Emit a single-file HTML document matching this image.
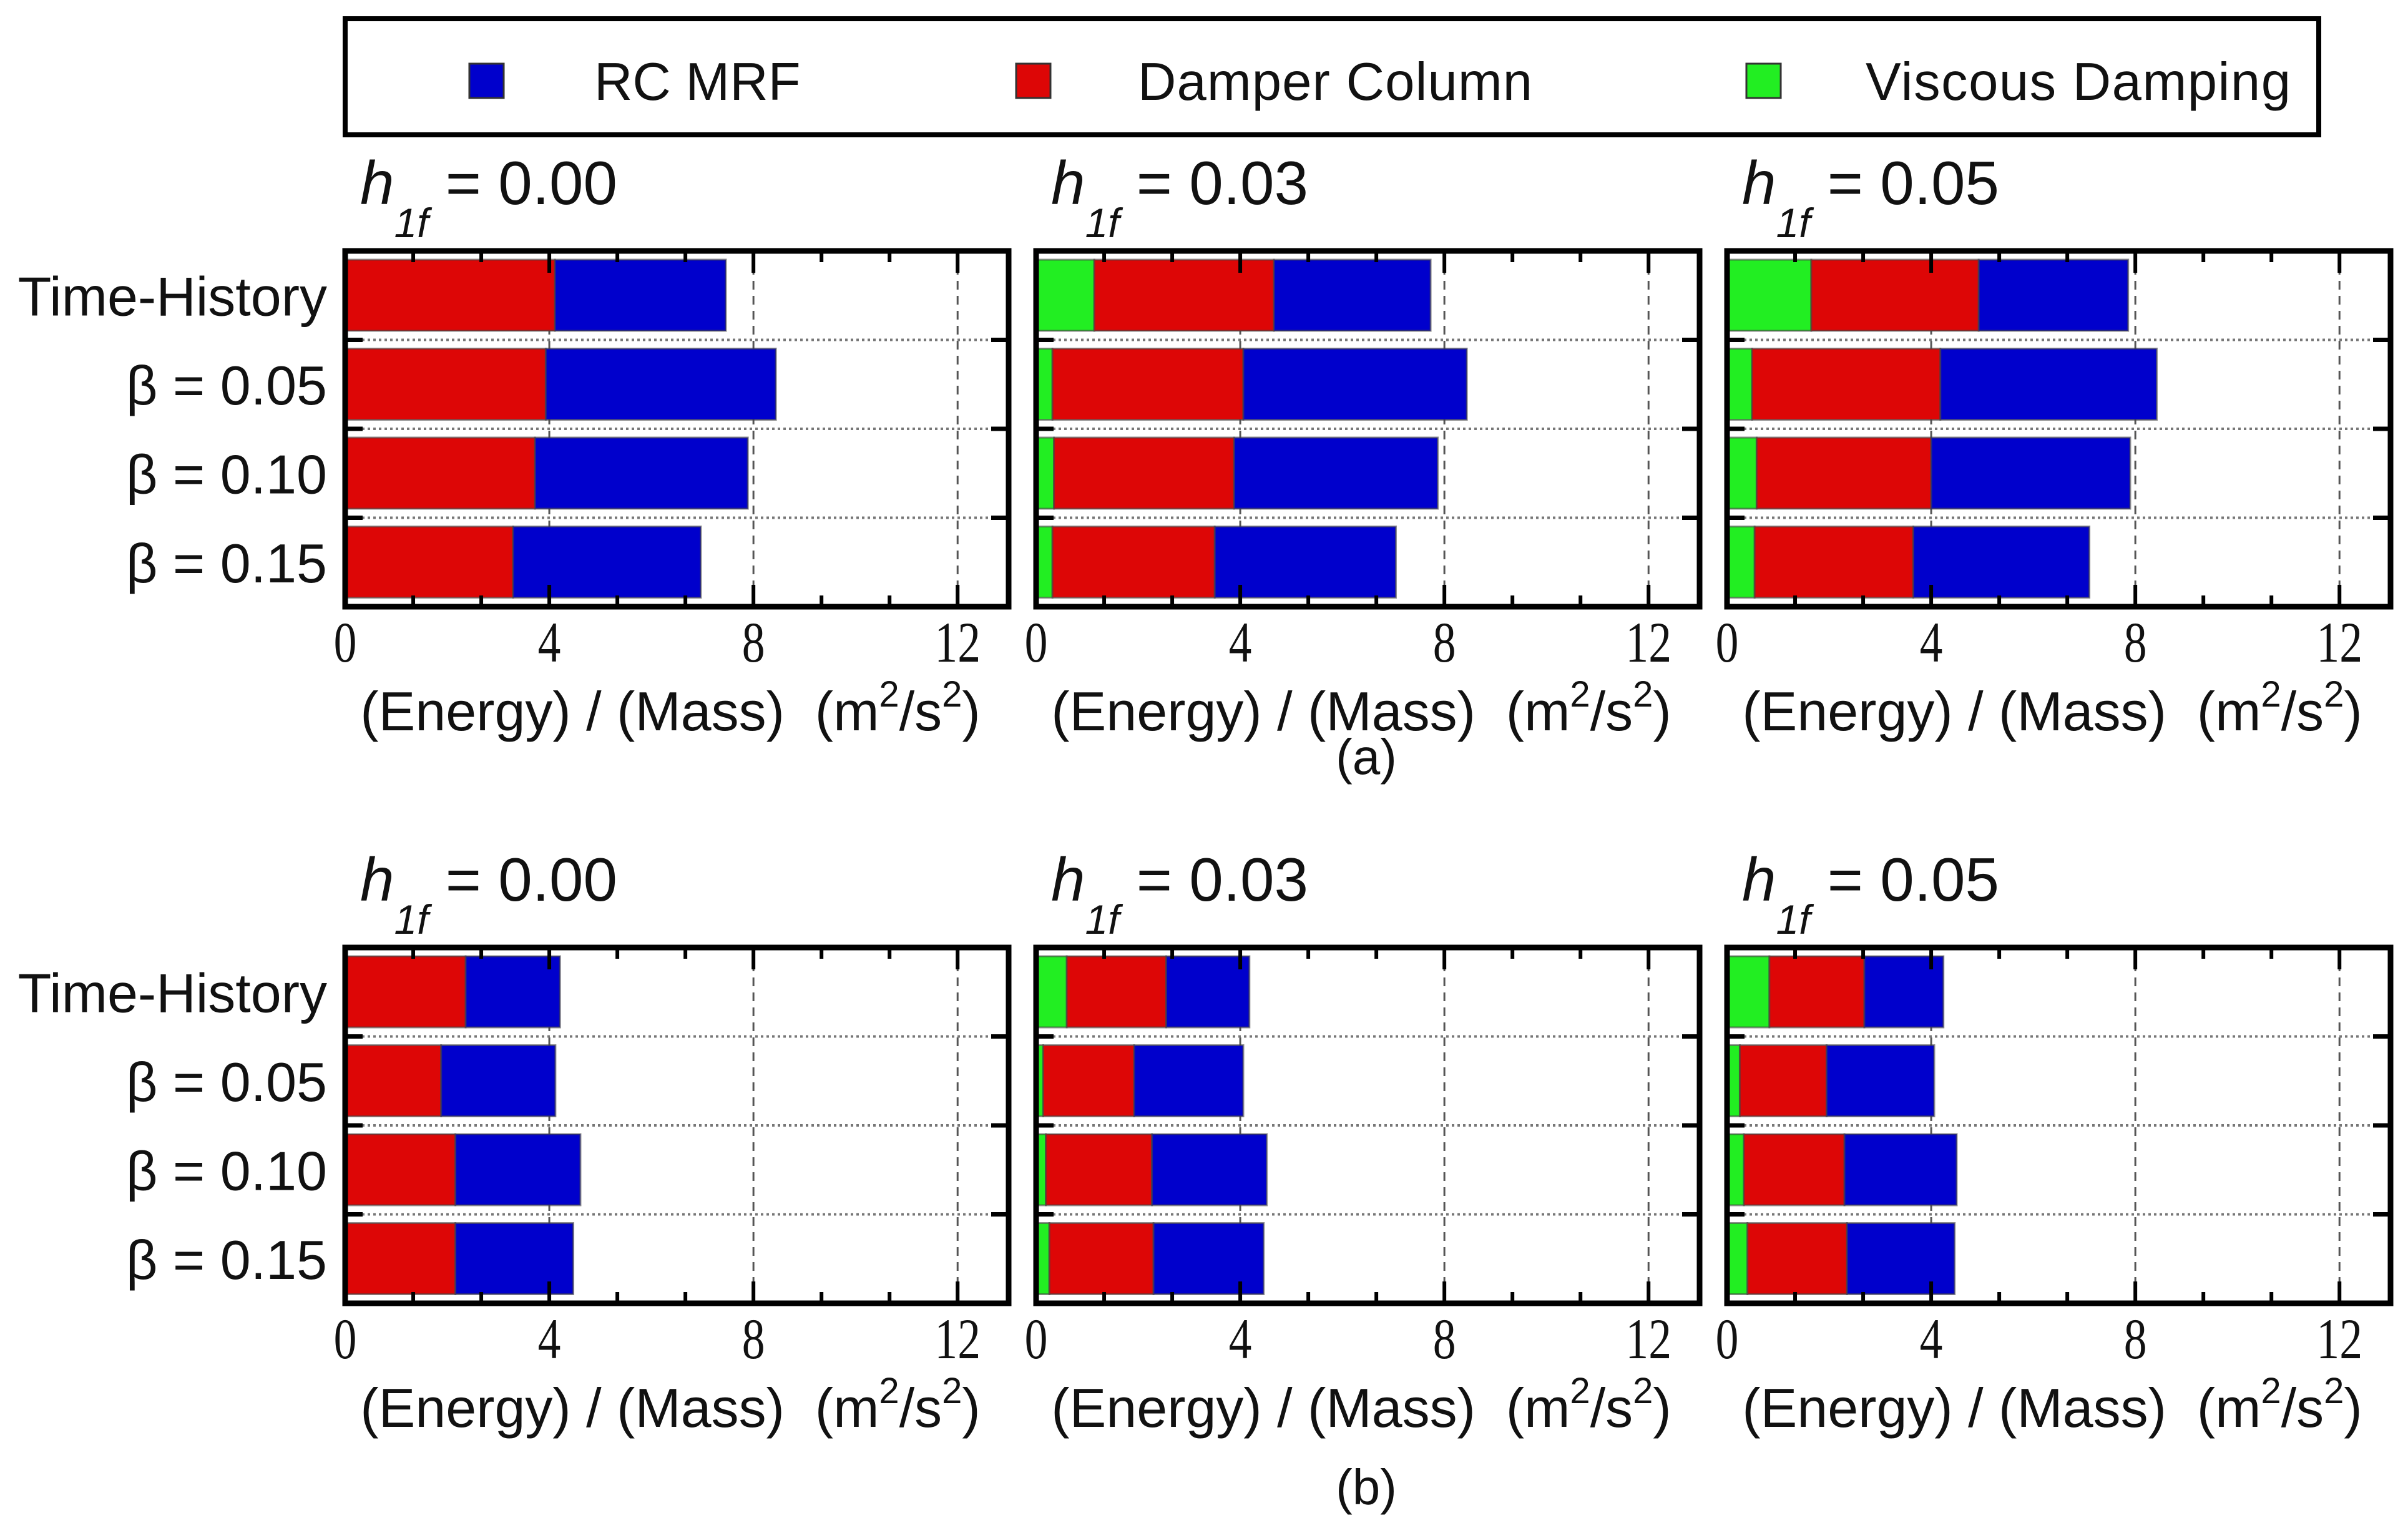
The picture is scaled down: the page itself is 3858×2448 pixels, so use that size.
<!DOCTYPE html>
<html><head><meta charset="utf-8"><style>
html,body{margin:0;padding:0;background:#fff;}
svg{display:block;}
</style></head><body>
<svg id="chart" xmlns="http://www.w3.org/2000/svg" width="3858" height="2448" viewBox="0 0 3858 2448">
<g>
<rect x="553" y="30" width="3162" height="186" fill="#fff" stroke="#000" stroke-width="8"/>
<rect x="752" y="102" width="55" height="55" fill="#0000cc" stroke="#333" stroke-width="3"/>
<text x="952" y="160" font-family="Liberation Sans, sans-serif" font-size="85" fill="#111">RC MRF</text>
<rect x="1628" y="102" width="55" height="55" fill="#dd0606" stroke="#333" stroke-width="3"/>
<text x="1823" y="160" font-family="Liberation Sans, sans-serif" font-size="85" fill="#111" textLength="632">Damper Column</text>
<rect x="2798" y="102" width="55" height="55" fill="#22ee22" stroke="#333" stroke-width="3"/>
<text x="2989" y="160" font-family="Liberation Sans, sans-serif" font-size="85" fill="#111" textLength="681">Viscous Damping</text>
</g>
<text x="2189" y="1240" text-anchor="middle" font-family="Liberation Sans, sans-serif" font-size="80" fill="#111">(a)</text>
<text x="2189" y="2410" text-anchor="middle" font-family="Liberation Sans, sans-serif" font-size="80" fill="#111">(b)</text>
<g id="plots"></g>
</svg>
<script>
const categories = ["Time-History", "\u03B2 = 0.05", "\u03B2 = 0.10", "\u03B2 = 0.15"];
const hValues = ["0.00", "0.03", "0.05"];
const tickLabels = [0, 4, 8, 12];
// panel (a)
const a0Green = [0, 0, 0, 0];
const a0Red   = [4.11, 3.93, 3.72, 3.29];
const a0Blue  = [3.35, 4.51, 4.17, 3.68];
const a1Green = [1.14, 0.32, 0.35, 0.32];
const a1Red   = [3.52, 3.74, 3.53, 3.18];
const a1Blue  = [3.07, 4.38, 3.99, 3.55];
const a2Green = [1.65, 0.49, 0.58, 0.54];
const a2Red   = [3.28, 3.69, 3.42, 3.11];
const a2Blue  = [2.93, 4.24, 3.90, 3.45];
// panel (b)
const b0Green = [0, 0, 0, 0];
const b0Red   = [2.36, 1.88, 2.16, 2.16];
const b0Blue  = [1.85, 2.24, 2.45, 2.31];
const b1Green = [0.60, 0.14, 0.19, 0.26];
const b1Red   = [1.95, 1.78, 2.08, 2.04];
const b1Blue  = [1.63, 2.14, 2.25, 2.16];
const b2Green = [0.83, 0.25, 0.33, 0.40];
const b2Red   = [1.86, 1.70, 1.97, 1.95];
const b2Blue  = [1.55, 2.11, 2.20, 2.11];

const NS = "http://www.w3.org/2000/svg";
const root = document.getElementById('plots');
function mk(tag, attrs, parent){ const e=document.createElementNS(NS,tag); for(const k in attrs) e.setAttribute(k,attrs[k]); parent.appendChild(e); return e; }

const panelLefts = [553, 1660, 2767];
const panelW = 1063, panelH = 570, xMax = 13;
const panelTops = [402, 1518];
const panels = [
  [[a0Green,a0Red,a0Blue],[a1Green,a1Red,a1Blue],[a2Green,a2Red,a2Blue]],
  [[b0Green,b0Red,b0Blue],[b1Green,b1Red,b1Blue],[b2Green,b2Red,b2Blue]]
];
const colors = ["#22ee22", "#dd0606", "#0000cc"];
const seriesNames = ["viscous-damping", "damper-column", "rc-mrf"];
const SANS = "Liberation Sans, sans-serif", SERIF = "Liberation Serif, serif";

panels.forEach((row, ri) => {
  const top = panelTops[ri];
  row.forEach((series, pi) => {
    const left = panelLefts[pi];
    const g = mk('g', {}, root);
    
    
    const xs = v => left + v / xMax * panelW;
    const band = panelH / categories.length;
    const yb = i => top + i * band;
    [4, 8, 12].forEach(v => {
      const l = mk('line', {x1: xs(v), x2: xs(v), y1: top, y2: top+panelH, stroke:'#555', 'stroke-width':3, 'stroke-dasharray':'14 10'}, g);
      
      
    });
    for (let i=1;i<categories.length;i++){
      const l = mk('line', {x1:left, x2:left+panelW, y1:yb(i), y2:yb(i), stroke:'#777', 'stroke-width':4, 'stroke-dasharray':'4 5'}, g);
      
      
      mk('line',{x1:left, x2:left+28, y1:yb(i), y2:yb(i), stroke:'#000','stroke-width':7}, g);
      mk('line',{x1:left+panelW-28, x2:left+panelW, y1:yb(i), y2:yb(i), stroke:'#000','stroke-width':7}, g);
    }
    categories.forEach((c, ci) => {
      let acc = 0;
      series.forEach((arr, si) => {
        const v = arr[ci];
        if (v > 0) {
          const r = mk('rect', {x: xs(acc), y: yb(ci)+14, width: xs(acc+v)-xs(acc), height: band*0.8, fill: colors[si], stroke:'#444', 'stroke-opacity':0.6, 'stroke-width':3}, g);
          
          
        }
        acc += v;
      });
    });
    for (let k=1;k<=9;k++){
      const v = k*4/3; const major = (k%3===0); const len = major?35:18;
      mk('line',{x1:xs(v),x2:xs(v),y1:top,y2:top+len,stroke:'#000','stroke-width':6}, g);
      mk('line',{x1:xs(v),x2:xs(v),y1:top+panelH,y2:top+panelH-len,stroke:'#000','stroke-width':6}, g);
    }
    const fr = mk('rect',{x:left,y:top,width:panelW,height:panelH,fill:'none',stroke:'#000','stroke-width':9}, g);
    
    
    tickLabels.forEach(t => {
      const tx = mk('text',{x:xs(t), y:top+panelH+88, 'text-anchor':'middle','font-family':SERIF,'font-size':92,fill:'#111',transform:`translate(${xs(t)} 0) scale(0.8 1) translate(${-xs(t)} 0)`}, g);
      
      
      tx.textContent = t;
    });
    const at = mk('text',{x:left+521, y:top+panelH+198, 'text-anchor':'middle','font-family':SANS,'font-size':88,fill:'#111'}, g);
    
    
    at.innerHTML = '(Energy) / (Mass)&#160; (m<tspan dy="-38" font-size="58">2</tspan><tspan dy="38">/s</tspan><tspan dy="-38" font-size="58">2</tspan><tspan dy="38">)</tspan>';
    const tt = mk('text',{x:left+24, y:top-75, 'font-family':SANS,'font-size':98,fill:'#111'}, g);
    
    
    tt.innerHTML = '<tspan font-style="italic">h</tspan><tspan dy="53" font-size="66" font-style="italic">1f</tspan><tspan dy="-53"> = ' + hValues[pi] + '</tspan>';
    if (pi === 0) {
      categories.forEach((c, ci) => {
        const cl = mk('text',{x:524, y:yb(ci)+band/2+32, 'text-anchor':'end','font-family':SANS,'font-size':88,fill:'#111'}, g);
        
        
        cl.textContent = c;
      });
    }
  });
});
</script>
</body></html>
